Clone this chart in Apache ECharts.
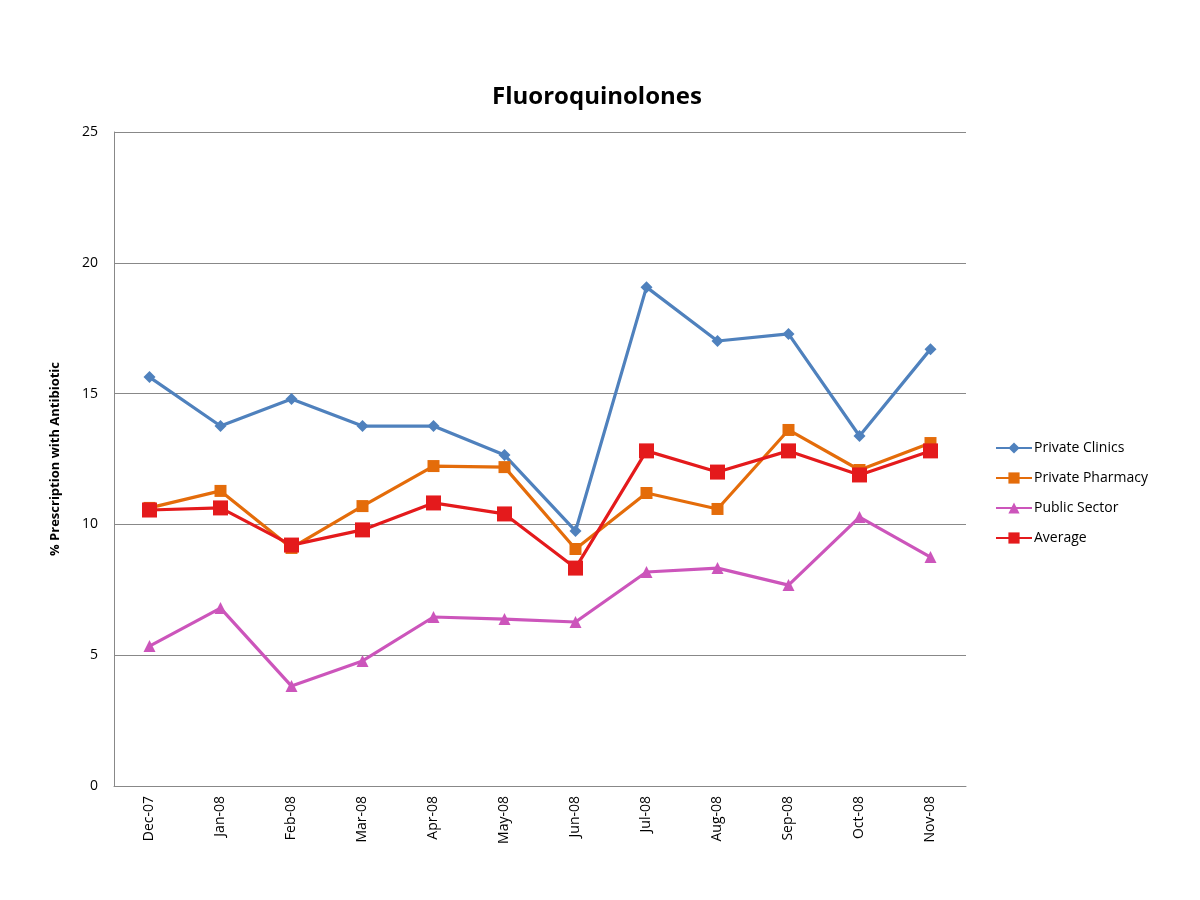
<!DOCTYPE html>
<html><head><meta charset="utf-8">
<script src="https://cdn.jsdelivr.net/npm/echarts@6/dist/echarts.min.js"></script>
<style>html,body{margin:0;padding:0;background:#fff}#c{width:1200px;height:900px}</style>
</head><body><div id="c"></div>
<script>
var categories = ['Dec-07','Jan-08','Feb-08','Mar-08','Apr-08','May-08','Jun-08','Jul-08','Aug-08','Sep-08','Oct-08','Nov-08'];
var privateClinics = [15.63,13.76,14.79,13.76,13.76,12.65,9.75,19.07,17.01,17.28,13.38,16.7];
var privatePharmacy = [10.63,11.28,9.1,10.7,12.23,12.19,9.06,11.2,10.59,13.61,12.08,13.11];
var publicSector = [5.35,6.8,3.82,4.78,6.46,6.38,6.27,8.18,8.33,7.68,10.28,8.75];
var average = [10.55,10.63,9.21,9.79,10.82,10.4,8.33,12.81,12.0,12.81,11.89,12.81];
var yTicks = [0,5,10,15,20,25];

var font = '"Open Sans", "Noto Sans", sans-serif';
function s(name, data, color, symbol, size) {
  return {name:name, type:'line', data:data, symbol:symbol, symbolSize:size,
    lineStyle:{color:color, width:3.2}, itemStyle:{color:color}, z: name==='Average'?5:3};
}
var chart = echarts.init(document.getElementById('c'));
chart.setOption({
  animation:false,
  backgroundColor:'#fff',
  title:{text:'Fluoroquinolones', left:592, top:80, textAlign:'center',
    textStyle:{fontFamily:font, fontSize:24, fontWeight:'bold', color:'#000'}},
  grid:{left:114, right:234, top:132, bottom:114},
  legend:{orient:'vertical', left:990, top:436, itemGap:16, itemWidth:36, itemHeight:14,
    textStyle:{fontFamily:font, fontSize:14, color:'#000', padding:[0,0,0,-3]},
    data:['Private Clinics','Private Pharmacy','Public Sector','Average']},
  xAxis:{type:'category', data:categories, boundaryGap:true,
    axisLine:{lineStyle:{color:'#888', width:1}}, axisTick:{show:false},
    axisLabel:{rotate:90, fontFamily:font, fontSize:14, color:'#000', margin:10}},
  yAxis:{type:'value', min:0, max:25, interval:5,
    name:'% Prescription with Antibiotic', nameLocation:'middle', nameGap:52,
    nameTextStyle:{fontFamily:font, fontSize:13, fontWeight:'bold', color:'#000'},
    axisLine:{show:true, lineStyle:{color:'#888'}}, axisTick:{show:false},
    axisLabel:{fontFamily:font, fontSize:14, color:'#000', margin:16,
      formatter:function(v){return yTicks.indexOf(v)>=0?String(v):'';}},
    splitLine:{lineStyle:{color:'#888', width:1}}},
  series:[
    s('Private Clinics', privateClinics, '#4F81BD', 'diamond', 12),
    s('Private Pharmacy', privatePharmacy, '#E46C0A', 'rect', 12),
    s('Public Sector', publicSector, '#CC55BB', 'triangle', 12),
    s('Average', average, '#E41A1C', 'rect', 15)
  ]
});
</script></body></html>
